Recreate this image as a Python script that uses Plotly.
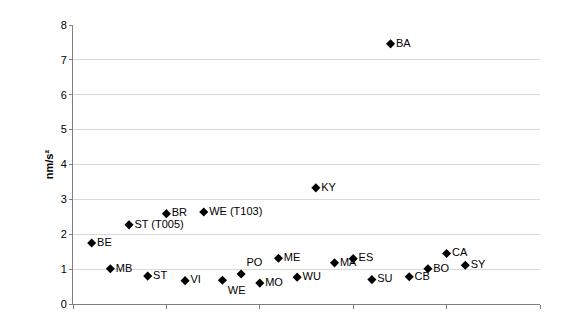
import plotly.graph_objects as go

labels = ["BE", "MB", "ST (T005)", "ST", "BR", "VI", "WE (T103)", "WE", "PO", "MO",
          "ME", "WU", "KY", "MA", "ES", "SU", "BA", "CB", "BO", "CA", "SY"]
xpos = list(range(1, 22))
values = [1.75, 1.01, 2.27, 0.80, 2.59, 0.67, 2.64, 0.68, 0.86, 0.60,
          1.31, 0.77, 3.33, 1.18, 1.30, 0.70, 7.46, 0.78, 1.01, 1.45, 1.11]
textpos = ["middle right"] * 21
textpos[7] = "bottom right"
textpos[8] = "top right"

fig = go.Figure()
fig.add_trace(go.Scatter(
    x=xpos, y=values, mode="markers+text", text=labels,
    textposition=textpos,
    textfont=dict(family="Liberation Sans, Arial", size=11, color="#000"),
    marker=dict(symbol="diamond", size=7, color="#000"),
    cliponaxis=False, showlegend=False,
))
fig.update_layout(
    width=568, height=312,
    margin=dict(l=73, r=28, t=25, b=8),
    plot_bgcolor="white", paper_bgcolor="white",
    font=dict(family="Liberation Sans, Arial", size=11, color="#000"),
    xaxis=dict(range=[0, 25], tickvals=[0, 5, 10, 15, 20, 25], showticklabels=False,
               ticks="outside", ticklen=4, tickcolor="#808080", automargin=False,
               showline=True, linecolor="#808080", linewidth=1,
               showgrid=False, zeroline=False),
    yaxis=dict(range=[0, 8], dtick=1, ticks="outside", ticklen=3, tickcolor="#808080",
               showline=True, linecolor="#808080", linewidth=1, automargin=False,
               showgrid=True, gridcolor="#d9d9d9", gridwidth=1, zeroline=False,
               title=dict(text="<b>nm/s²</b>", font=dict(size=11), standoff=4)),
)
fig.write_html("out.html")
